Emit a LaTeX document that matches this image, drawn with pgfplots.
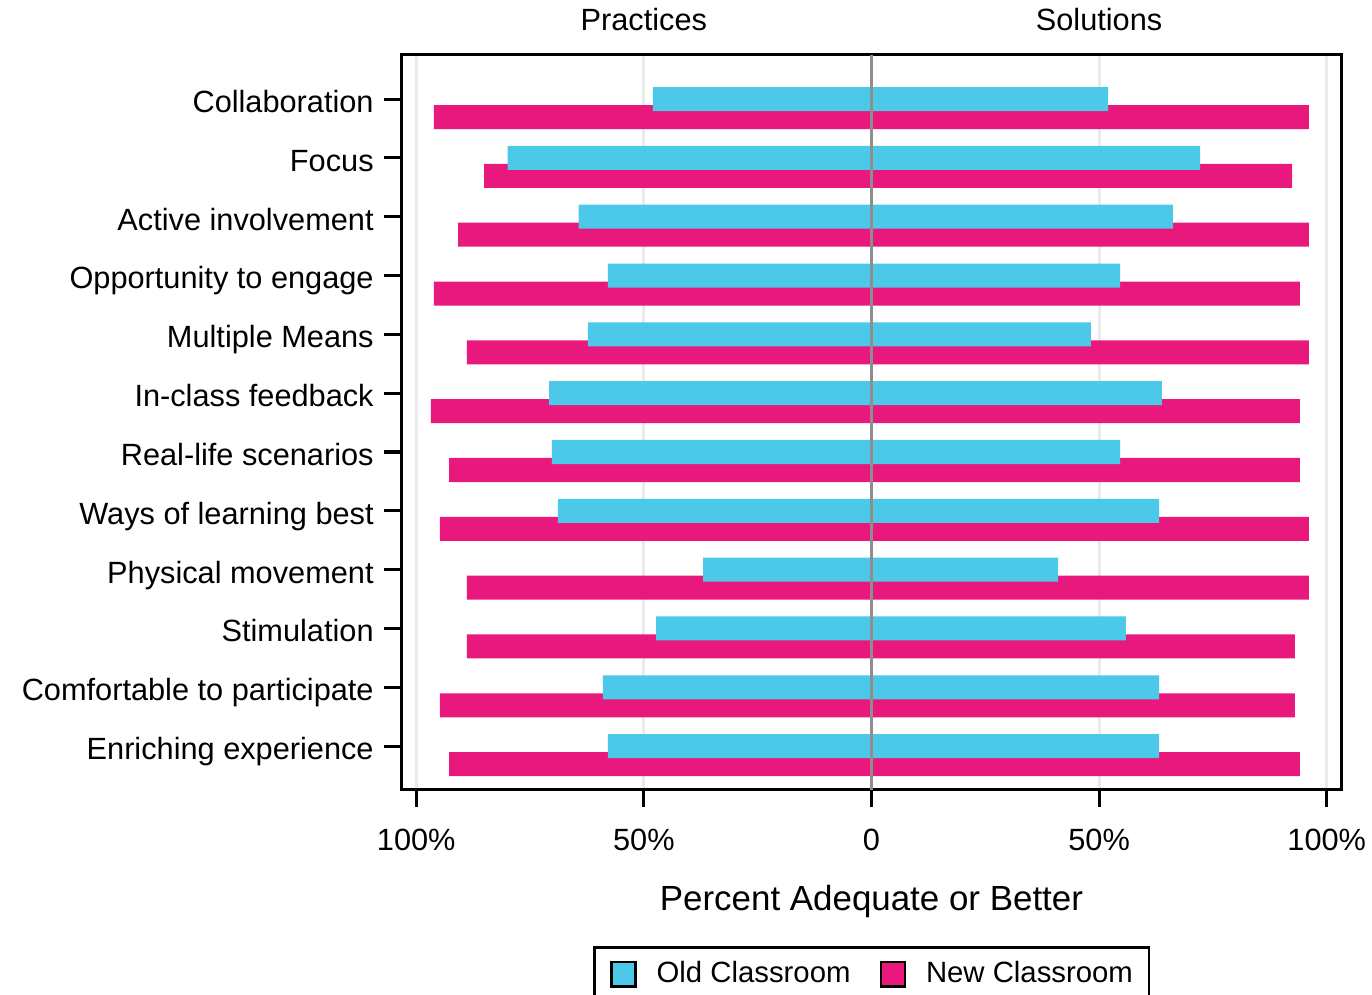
\documentclass[border=0pt]{standalone}
\usepackage{pgfplots}
\pgfplotsset{compat=1.18}
\usepackage{fontspec}
\setmainfont{Liberation Sans}

\definecolor{oldc}{RGB}{76,200,232}
\definecolor{newc}{RGB}{232,24,124}
\definecolor{gridc}{RGB}{235,235,235}
\definecolor{zeroc}{RGB}{142,142,142}

\begin{document}
\begin{tikzpicture}
\begin{axis}[
scale only axis,
width=336.4pt, height=263.1pt,
clip=false,
xmin=-103.2, xmax=103.2,
ymin=0.247, ymax=12.74,
y dir=reverse,
xtick={-100,-50,0,50,100},
xticklabels={100\%,50\%,0,50\%,100\%},
ytick={1,2,3,4,5,6,7,8,9,10,11,12},
yticklabels={Collaboration,Focus,Active involvement,Opportunity to engage,Multiple Means,In-class feedback,Real-life scenarios,Ways of learning best,Physical movement,Stimulation,Comfortable to participate,Enriching experience},
tick align=outside,
tick pos=left,
major tick length=6.2pt,
every tick/.style={black, line width=1.1pt},
axis line style={black, line width=1.1pt},
xmajorgrids,
major grid style={gridc, line width=1.1pt},
/pgf/number format/assume math mode=true,
tick label style={font=\fontsize{11}{13}\selectfont},
xticklabel style={anchor=base, yshift=-15.7pt},
yticklabel style={anchor=base east, yshift=-4.8pt, xshift=-0.3pt},
xlabel={Percent Adequate or Better},
xlabel style={font=\fontsize{12.5}{14}\selectfont, at={(axis description cs:0.5,0)}, anchor=base, yshift=-43.3pt},
legend columns=2,
legend style={at={(axis description cs:0.2036,-0.2126)}, anchor=north west,
  draw=black, line width=1pt, inner xsep=5.7pt, inner ysep=5pt,
  font=\fontsize{10.5}{12}\selectfont,
  nodes={inner sep=0pt},
  /tikz/every odd column/.style={column sep=7.2pt},
  /tikz/every even column/.style={column sep=10.4pt}},
legend image code/.code={\draw[#1, draw=black, line width=0.8pt] (0pt,-4.3pt) rectangle (8.6pt,4.3pt);},
]

% new classroom, drawn first so the old bars lie on top
\addplot[xbar, bar width=8.6pt, bar shift=0pt, fill=newc, draw=none, forget plot] coordinates {
(-96.1,1.306) (-85.1,2.306) (-90.8,3.306) (-96.1,4.306) (-88.9,5.306) (-96.8,6.306)
(-92.8,7.306) (-94.8,8.306) (-88.9,9.306) (-88.9,10.306) (-94.8,11.306) (-92.8,12.306)
};
\addplot[xbar, bar width=8.6pt, bar shift=0pt, fill=newc, draw=none, forget plot] coordinates {
(96.1,1.306) (92.4,2.306) (96.1,3.306) (94.1,4.306) (96.1,5.306) (94.1,6.306)
(94.1,7.306) (96.1,8.306) (96.1,9.306) (93.0,10.306) (93.0,11.306) (94.1,12.306)
};

% old classroom
\addplot[xbar, bar width=8.6pt, bar shift=0pt, fill=oldc, draw=none, forget plot] coordinates {
(-48.0,1) (-79.9,2) (-64.3,3) (-57.9,4) (-62.3,5) (-70.8,6)
(-70.2,7) (-68.9,8) (-37.0,9) (-47.3,10) (-59.0,11) (-57.9,12)
};
\addplot[xbar, bar width=8.6pt, bar shift=0pt, fill=oldc, draw=none, forget plot] coordinates {
(52.0,1) (72.2,2) (66.2,3) (54.6,4) (48.2,5) (63.8,6)
(54.6,7) (63.2,8) (41.0,9) (55.9,10) (63.2,11) (63.2,12)
};

\addlegendimage{fill=oldc}
\addlegendentry{Old Classroom}
\addlegendimage{fill=newc}
\addlegendentry{New Classroom}

\draw[zeroc, line width=1.1pt] (axis cs:0,0.247) -- (axis cs:0,12.74);

\node[anchor=base, yshift=8.6pt, font=\fontsize{11}{13}\selectfont] at (axis cs:-50,0.247) {Practices};
\node[anchor=base, yshift=8.6pt, font=\fontsize{11}{13}\selectfont] at (axis cs:50,0.247) {Solutions};
\end{axis}
\pgfresetboundingbox
\path[use as bounding box] (current axis.south west) ++(-143.8pt,-73.2pt) rectangle ++(491.2pt,355.9pt);
\end{tikzpicture}
\end{document}
